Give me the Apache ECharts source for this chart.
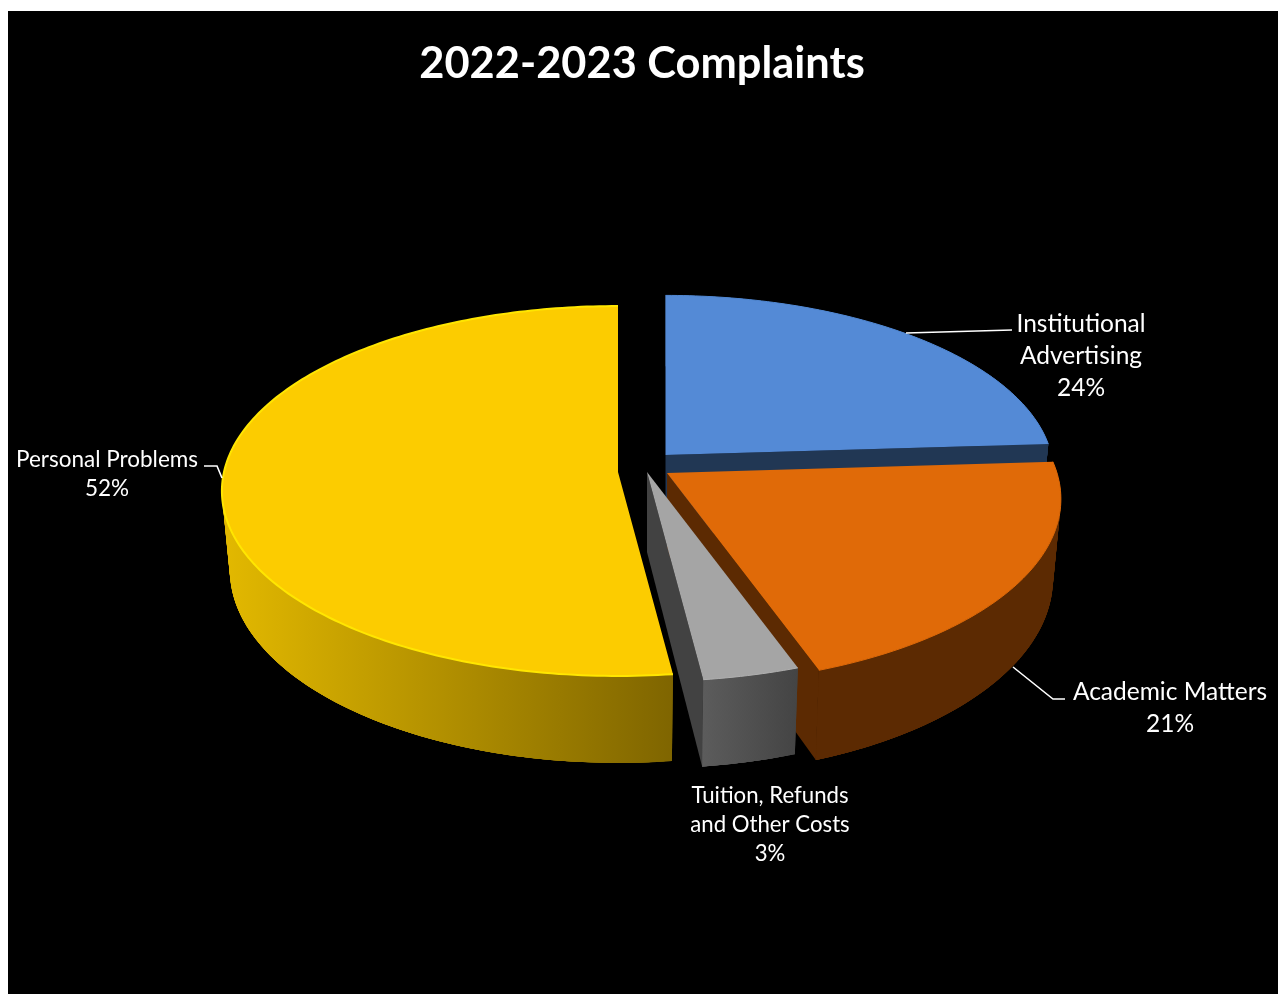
<!DOCTYPE html>
<html><head><meta charset="utf-8">
<style>html,body{margin:0;padding:0;background:#fff}#c{width:1278px;height:994px}</style>
<script src="https://cdn.jsdelivr.net/npm/echarts@6/dist/echarts.min.js"></script>
</head><body><div id="c"></div>
<script>
// ---- data ----
const categories = ['Institutional\nAdvertising', 'Academic Matters', 'Tuition, Refunds\nand Other Costs', 'Personal Problems'];
const values = [24, 20.51, 3.49, 52];
// ---- per-slice styling / layout ----
const topColors = ['#548AD6', '#E06A08', '#A5A5A5', '#FCCC00'];
const rimColors = ['#5087D2', '#DC6808', '#B0B0B0', '#FFE600'];
const rimWidths = [1, 1, 1, 2];
const faceColors = ['#213754', '#5C2A02', '#424242', '#7F6500'];
const wallColors = [
  ['#213754', '#213754'],
  ['#5C2A02', '#5C2A02'],
  ['#5C5C5C', '#444444'],
  ['#E3B900', '#7F6500']
];
const apexes = [[665.5, 455], [667, 473], [647, 472], [618, 472]];
const radiiX = [386, 390, 403, 394];
const radiiY = [176, 182, 188, 183];
const perspectives = [0.1027, 0.14, 0.1027, 0.1027];
const labelAt = [[1081, 356, 24.5, 32], [1170, 708, 24.5, 32], [770, 825, 22.2, 29], [107, 474, 22.5, 29]];
const leaders = [
  [[906, 333], [1012, 330]],
  [[1013, 667], [1053, 699], [1065, 699]],
  [],
  [[204, 466], [217, 466], [222, 478]]
];
const depth = 78, apexDepth = 80, bottomScale = 0.98;

const total = values.reduce((a, b) => a + b, 0);
let running = 0;
const spans = values.map(v => { const s = running; running += v; return [s / total * 360, running / total * 360]; });

function project(i, deg, bottom) {
  const t = deg * Math.PI / 180, X = Math.sin(t), Y = -Math.cos(t);
  const f = 1 / (1 - perspectives[i] * Y);
  const a = apexes[i];
  const sx = bottom ? bottomScale : 1;
  return [a[0] + radiiX[i] * X * f * sx, a[1] + radiiY[i] * Y * f + (bottom ? depth * f : 0)];
}
function apexBottom(i) { return [apexes[i][0], apexes[i][1] + apexDepth]; }
function arc(i, bottom, from, to) {
  const pts = [], n = Math.max(2, Math.ceil(Math.abs(to - from)));
  for (let k = 0; k <= n; k++) pts.push(project(i, from + (to - from) * k / n, bottom));
  return pts;
}

function renderItem(params, api) {
  const i = params.dataIndex;
  const v = api.value(0);
  const from = spans[i][0], to = from + v / total * 360;
  const top = arc(i, false, from, to), low = arc(i, true, from, to);
  const xs = top.concat(low).map(p => p[0]);
  const grad = { type: 'linear', global: true, x: Math.min.apply(null, xs), y: 0, x2: Math.max.apply(null, xs), y2: 0,
    colorStops: [{ offset: 0, color: wallColors[i][0] }, { offset: 1, color: wallColors[i][1] }] };
  const children = [];
  // overlapping strips fill the silhouette of the tapered wall
  for (let k = 0; k < top.length - 1; k++) {
    const e = Math.min(k + 4, top.length - 1);
    children.push({ type: 'polygon', shape: { points: [top[k], top[e], low[e], low[k]] }, style: { fill: grad } });
  }
  // one solid wall over them, so no seams show
  children.push({ type: 'polygon', shape: { points: top.concat(low.slice().reverse()) }, style: { fill: grad } });
  if (i !== 3) children.push({ type: 'polygon', shape: { points: [apexes[i], project(i, to, false), project(i, to, true), apexBottom(i)] }, style: { fill: faceColors[i] } });
  children.push({ type: 'polygon', shape: { points: [apexes[i]].concat(top) }, style: { fill: topColors[i] } });
  children.push({ type: 'polyline', shape: { points: top }, style: { fill: 'none', stroke: rimColors[i], lineWidth: rimWidths[i] } });
  if (leaders[i].length) children.push({ type: 'polyline', z2: 20, shape: { points: leaders[i] }, style: { fill: 'none', stroke: '#fff', lineWidth: 1.6 } });
  const l = labelAt[i];
  children.push({
    type: 'text', z2: 30,
    style: {
      x: l[0], y: l[1], text: categories[i] + '\n' + Math.round(v / total * 100) + '%',
      fill: '#fff', font: l[2] + 'px Lato', align: 'center', verticalAlign: 'middle', lineHeight: l[3]
    }
  });
  return { type: 'group', children };
}

const chart = echarts.init(document.getElementById('c'), null, { renderer: 'canvas' });
chart.setOption({
  animation: false,
  backgroundColor: '#fff',
  title: {
    text: '2022-2023 Complaints', left: 637, top: 59, textAlign: 'center', textVerticalAlign: 'middle',
    textStyle: { color: '#fff', fontFamily: 'Lato', fontWeight: 'bold', fontSize: 43.4 }
  },
  graphic: [{ type: 'rect', z: -10, silent: true, shape: { x: 8, y: 11, width: 1270, height: 983 }, style: { fill: '#000' } }],
  series: [{
    type: 'custom', coordinateSystem: 'none', clip: false, silent: true, z: 2,
    data: values.map(v => [v]),
    renderItem
  }]
});
</script></body></html>
